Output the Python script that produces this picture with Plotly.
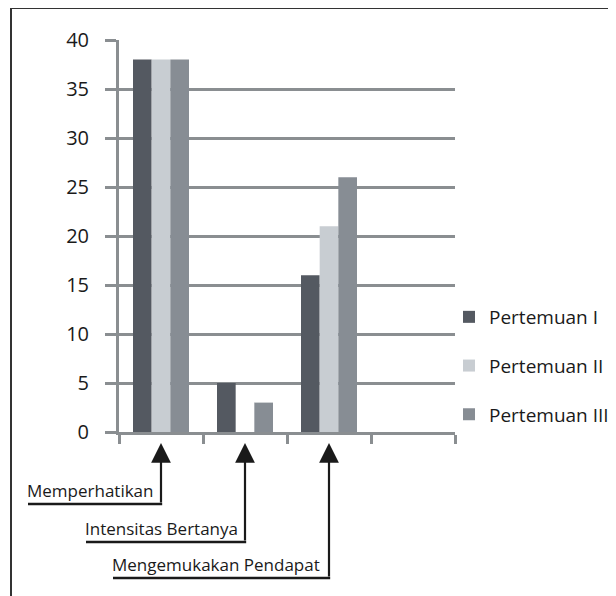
import plotly.graph_objects as go

categories = ["Memperhatikan", "Intensitas Bertanya", "Mengemukakan Pendapat", " "]
series_names = ["Pertemuan I", "Pertemuan II", "Pertemuan III"]
pertemuan_1 = [38, 5, 16, None]
pertemuan_2 = [38, 0, 21, None]
pertemuan_3 = [38, 3, 26, None]
y_ticks = [0, 5, 10, 15, 20, 25, 30, 35, 40]

colors = ["#545961", "#c8cdd2", "#878d94"]
axis_col = "#8a8e91"
FONT = "Open Sans"

OFF = 8  # page body margin
W, H = 616 - OFF, 596 - OFF
# targets in window pixels
PLOT_L, PLOT_R, PLOT_T, PLOT_B = 119, 455, 40, 432
L, T = PLOT_L - OFF, PLOT_T - OFF
R, B = W - (PLOT_R - OFF), H - (PLOT_B - OFF)
PW, PH = PLOT_R - PLOT_L, PLOT_B - PLOT_T


def px_to_xpaper(px):
    return (px - PLOT_L) / PW


def px_to_ypaper(py):
    return (PLOT_B - py) / PH


fig = go.Figure()
for name, vals, col in zip(series_names, [pertemuan_1, pertemuan_2, pertemuan_3], colors):
    fig.add_trace(go.Bar(name=name, x=categories, y=vals, marker=dict(color=col, line=dict(width=0)),
                         legendgroup=name))

fig.update_layout(
    width=W, height=H,
    margin=dict(l=L, r=R, t=T, b=B, pad=0, autoexpand=False),
    paper_bgcolor="white", plot_bgcolor="white",
    font=dict(family=FONT, size=17, color="#1a1a1a"),
    barmode="group", bargap=1/3, bargroupgap=0,
    showlegend=True,
    legend=dict(xref="container", yref="container",
                x=(449 - OFF) / W, xanchor="left", y=(H - (366 - OFF)) / H, yanchor="middle",
                font=dict(family=FONT, size=19, color="#1a1a1a"), tracegroupgap=21,
                bgcolor="rgba(0,0,0,0)"),
    xaxis=dict(type="category", categoryorder="array", categoryarray=categories,
               range=[-0.5, 3.5], showticklabels=False, showgrid=False, zeroline=False,
               showline=True, linecolor=axis_col, linewidth=3,
               ticks="outside", tickson="boundaries", ticklen=9, tickwidth=2.5, tickcolor=axis_col),
    yaxis=dict(range=[0, 40], tickvals=y_ticks, showgrid=True, gridcolor=axis_col, gridwidth=2.5,
               zeroline=False, showline=True, linecolor=axis_col, linewidth=3,
               ticks="outside", ticklen=11, tickwidth=2.5, tickcolor=axis_col,
               ticklabelstandoff=12, tickfont=dict(family=FONT, size=20, color="#1a1a1a")),
)

# outer frame
fig.add_shape(type="rect", xref="paper", yref="paper",
              x0=px_to_xpaper(11), x1=px_to_xpaper(640), y0=px_to_ypaper(620), y1=px_to_ypaper(8),
              line=dict(color="#333333", width=2), fillcolor="rgba(0,0,0,0)", layer="below")

# category call-out labels with arrows
label_left_px = [28, 86, 113]
label_line_py = [504, 542, 578]
tip_py = 443
for i, (cat, lx, ly) in enumerate(zip(categories[:3], label_left_px, label_line_py)):
    fig.add_annotation(x=i, y=px_to_ypaper(tip_py), xref="x", yref="paper",
                       ax=0, ay=ly - tip_py, axref="pixel", ayref="pixel",
                       text="", showarrow=True, arrowhead=2, arrowsize=1.8, arrowwidth=2.2,
                       arrowcolor="#1a1a1a", standoff=0, startstandoff=0)
    fig.add_shape(type="line", xref="paper", yref="paper",
                  x0=px_to_xpaper(lx), x1=(i + 0.5) / 4 + 0.0035,
                  y0=px_to_ypaper(ly), y1=px_to_ypaper(ly),
                  line=dict(color="#1a1a1a", width=2.5))
    fig.add_annotation(x=px_to_xpaper(lx), y=px_to_ypaper(ly - 1), xref="paper", yref="paper",
                       text=cat, showarrow=False, xanchor="left", yanchor="bottom",
                       xshift=-2, borderpad=0,
                       font=dict(family=FONT, size=17, color="#1a1a1a"))

fig.write_html("out.html", config={"displayModeBar": False})
